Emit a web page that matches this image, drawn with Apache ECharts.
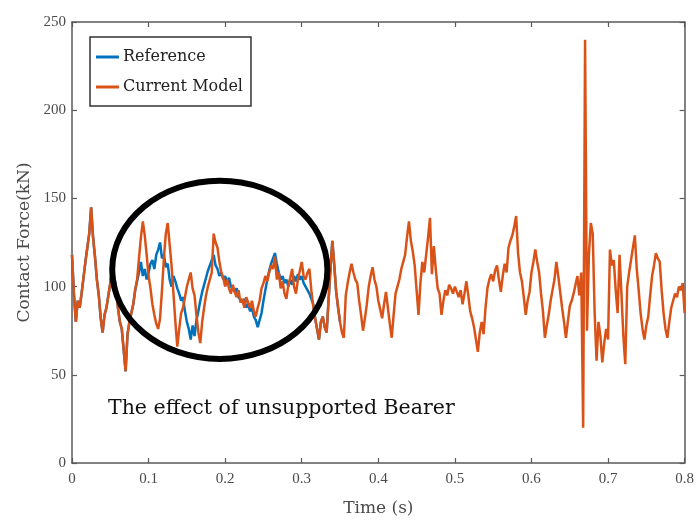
<!DOCTYPE html>
<html>
<head>
<meta charset="utf-8">
<script src="https://cdn.jsdelivr.net/npm/echarts@6/dist/echarts.min.js"></script>
<style>
html,body{margin:0;padding:0;background:#fff;}
#chart{width:697px;height:523px;}
</style>
</head>
<body>
<div id="chart"></div>
<script>
// sampling step of the time axis (s)
const timeStep = 0.0025;
const xTicks = { min: 0, max: 0.8, interval: 0.1 };
const yTicks = { min: 0, max: 250, interval: 50 };
const seriesNames = ['Reference', 'Current Model'];
const annotationText = 'The effect of unsupported Bearer';

// Current Model contact force (kN), one value per timeStep from t = 0 to 0.8 s
const currentModel = [
118,96,80,92,88,96,105,114,122,130,
145,128,117,104,95,82,74,84,88,95,
102,110,104,99,88,80,76,64,52,73,
80,85,90,98,104,116,128,137,129,118,
106,99,90,84,79,76,82,98,116,130,
136,124,112,96,80,66,76,85,88,94,
100,104,108,99,95,84,74,68,80,88,
95,100,104,108,130,125,122,114,108,105,
100,104,99,96,101,97,94,98,91,93,
88,94,91,88,92,86,83,88,92,99,
102,106,103,108,112,110,117,104,108,99,
103,96,93,101,105,110,100,96,104,109,
114,106,104,108,110,98,89,82,76,70,
80,83,77,74,92,110,126,112,97,88,
80,74,71,95,102,108,113,108,104,102,
92,84,75,82,90,100,106,111,104,100,
92,87,82,90,97,88,79,71,84,96,
100,104,110,114,118,128,137,126,120,112,
98,84,102,114,108,109,128,139,107,123,
110,99,96,84,92,98,95,101,99,96,
100,97,94,98,90,96,103,95,86,82,
77,70,63,74,80,73,88,99,104,107,
103,109,112,104,97,106,113,108,122,126,
129,134,140,119,108,103,94,84,92,97,
108,114,121,114,108,96,86,71,78,84,
92,98,104,114,106,97,88,80,71,80,
89,92,96,101,106,95,108,20,240,75,
118,136,130,85,58,80,72,57,68,76,
70,121,112,115,98,85,118,96,72,56,
100,108,115,122,129,110,98,85,76,70,
78,83,95,106,112,119,116,114,98,85,
76,71,80,88,92,96,94,100,98,102,
85
];

// Reference contact force (kN), one value per timeStep from t = 0 to 0.35 s
// (after that it lies under the Current Model curve)
const reference = [
118,96,80,92,88,96,105,114,122,130,
145,128,117,104,95,82,74,84,88,95,
102,110,106,100,88,80,76,64,52,73,
80,85,90,98,103,108,114,106,110,104,
108,113,115,110,118,121,125,116,118,111,
113,104,100,106,103,99,96,92,94,86,
80,76,70,78,72,81,86,92,97,101,
105,109,112,115,118,112,110,106,108,104,
106,102,105,100,101,97,99,94,95,91,
93,88,90,86,88,83,81,77,76,85,
92,98,104,109,113,116,119,113,108,104,
106,102,104,100,104,101,106,103,107,104,
106,102,100,98,96,93,90,82,76,70,
80,83,77,74,92,110,126,112,97,88,
80
];

function toPairs(values) {
  return values.map((v, i) => [+(i * timeStep).toFixed(4), v]);
}

const serifFont = 'Liberation Serif';
const wideSerif = 'DejaVu Serif';
const axisColor = '#5a5a5a';
const labelColor = '#4a4a4a';

const chart = echarts.init(document.getElementById('chart'), null, { renderer: 'canvas' });

const baseX = {
  type: 'value', min: xTicks.min, max: xTicks.max, interval: xTicks.interval,
  axisLine: { show: true, onZero: false, lineStyle: { color: axisColor, width: 1.5 } },
  axisTick: { show: true, inside: true, length: 5, lineStyle: { color: axisColor, width: 1.2 } },
  splitLine: { show: false }
};
const baseY = {
  type: 'value', min: yTicks.min, max: yTicks.max, interval: yTicks.interval,
  axisLine: { show: true, onZero: false, lineStyle: { color: axisColor, width: 1.5 } },
  axisTick: { show: true, inside: true, length: 5, lineStyle: { color: axisColor, width: 1.2 } },
  splitLine: { show: false }
};

const option = {
  animation: false,
  backgroundColor: '#ffffff',
  textStyle: { fontFamily: serifFont },
  grid: { left: 72, right: 11, top: 22, bottom: 60, containLabel: false },
  legend: {
    data: seriesNames,
    orient: 'vertical',
    left: 90, top: 37,
    padding: [12, 8, 11, 6],
    itemGap: 14,
    itemWidth: 23, itemHeight: 3,
    icon: 'rect',
    borderColor: '#333', borderWidth: 1.5,
    backgroundColor: '#fff',
    textStyle: { fontFamily: wideSerif, fontSize: 16, color: '#222', padding: [0, 0, 0, -1] }
  },
  xAxis: [
    Object.assign({}, baseX, {
      position: 'bottom',
      name: 'Time (s)', nameLocation: 'middle', nameGap: 37,
      nameTextStyle: { fontFamily: wideSerif, fontSize: 17, color: labelColor },
      axisLabel: { fontFamily: serifFont, fontSize: 15, color: labelColor, margin: 9 }
    }),
    Object.assign({}, baseX, { position: 'top', axisLabel: { show: false } })
  ],
  yAxis: [
    Object.assign({}, baseY, {
      position: 'left',
      name: 'Contact Force(kN)', nameLocation: 'middle', nameGap: 35, nameRotate: 90,
      nameTextStyle: { fontFamily: wideSerif, fontSize: 17, color: labelColor },
      axisLabel: { fontFamily: serifFont, fontSize: 15, color: labelColor, margin: 6 }
    }),
    Object.assign({}, baseY, { position: 'right', axisLabel: { show: false } })
  ],
  series: [
    {
      name: seriesNames[0], type: 'line', xAxisIndex: 0, yAxisIndex: 0,
      data: toPairs(reference), showSymbol: false, sampling: null,
      lineStyle: { color: '#0072BD', width: 2.5 }, itemStyle: { color: '#0072BD' }, z: 2
    },
    {
      name: seriesNames[1], type: 'line', xAxisIndex: 0, yAxisIndex: 0,
      data: toPairs(currentModel), showSymbol: false, sampling: null,
      lineStyle: { color: '#D95319', width: 2.5 }, itemStyle: { color: '#D95319' }, z: 3
    }
  ]
};
chart.setOption(option);

// annotation ellipse and caption, placed in data coordinates
const c = chart.convertToPixel({ xAxisIndex: 0, yAxisIndex: 0 }, [0.193, 109.5]);
const e = chart.convertToPixel({ xAxisIndex: 0, yAxisIndex: 0 }, [0.193 + 0.1405, 109.5 + 50.5]);
const t = chart.convertToPixel({ xAxisIndex: 0, yAxisIndex: 0 }, [0.047, 31]);
chart.setOption({
  graphic: [
    {
      type: 'ellipse', z: 100,
      shape: { cx: c[0], cy: c[1], rx: e[0] - c[0], ry: c[1] - e[1] },
      style: { fill: null, stroke: '#000', lineWidth: 6 }
    },
    {
      type: 'text', z: 100, x: t[0], y: t[1],
      style: { text: annotationText, fill: '#111', fontFamily: wideSerif, fontSize: 20.5, verticalAlign: 'middle' }
    }
  ]
});
</script>
</body>
</html>
